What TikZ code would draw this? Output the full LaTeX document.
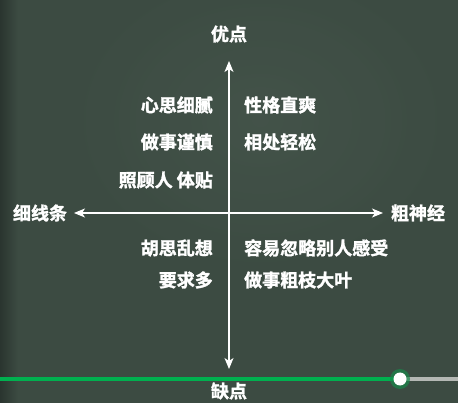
\documentclass[tikz,border=0pt]{standalone}
\usepackage{fontspec}
\newfontfamily\cjk{Noto Sans CJK SC}[BoldFont={Noto Sans CJK SC Bold}, BoldFeatures={FakeBold=1.6}]
\usetikzlibrary{arrows.meta}
\definecolor{board}{HTML}{3C4B42}
\definecolor{boarddark}{HTML}{2A352F}
\definecolor{boardlight}{HTML}{48584E}
\definecolor{barGreen}{HTML}{00B04F}
\definecolor{barGray}{HTML}{B4B8B4}
\tikzset{
  lbl/.style={text=white, font=\cjk\bfseries\fontsize{18}{18}\selectfont, inner sep=0pt},
  axis/.style={draw=white, line width=1.6pt, -{Stealth[length=11pt,width=9pt,inset=3pt]}},
}
\begin{document}
\begin{tikzpicture}[x=1pt,y=-1pt]
\useasboundingbox (0,0) rectangle (458,403);
\fill[board] (0,0) rectangle (458,403);
\shade[left color=boarddark, right color=board] (0,0) rectangle (18,403);
\shade[inner color=boardlight, outer color=board, opacity=0.6] (260,120) ellipse (200 and 160);
\coordinate (o) at (229,213);
\coordinate (top) at (229,61);
\coordinate (bot) at (229,369);
\coordinate (lft) at (74,213);
\coordinate (rgt) at (383,213);
\draw[axis] (o) -- (top);
\draw[axis] (o) -- (bot);
\draw[axis] (o) -- (lft);
\draw[axis] (o) -- (rgt);
\node[lbl] (good) at (229,34) {优点};
\node[lbl] (bad) at (229,391) {缺点};
\node[lbl] (thin) at (40,213) {细线条};
\node[lbl] (thick) at (418,213) {粗神经};
\node[lbl, anchor=east] (l1) at (213,105) {心思细腻};
\node[lbl, anchor=east] (l2) at (213,142) {做事谨慎};
\node[lbl, anchor=east] (l3) at (213,180) {照顾人 体贴};
\node[lbl, anchor=east] (l4) at (213,248) {胡思乱想};
\node[lbl, anchor=east] (l5) at (213,280) {要求多};
\node[lbl, anchor=west] (r1) at (244,105) {性格直爽};
\node[lbl, anchor=west] (r2) at (244,142) {相处轻松};
\node[lbl, anchor=west] (r4) at (244,248) {容易忽略别人感受};
\node[lbl, anchor=west] (r5) at (244,280) {做事粗枝大叶};
% progress bar
\coordinate (barL) at (0,379);
\coordinate (knob) at (400,379);
\coordinate (barR) at (458,379);
\draw[barGray, line width=3.5pt] (knob) -- (barR);
\draw[barGreen, line width=3.5pt] (barL) -- (knob);
\fill[barGreen!60!board, opacity=0.7] (knob) circle (10);
\fill[white] (knob) circle (6.5);
\end{tikzpicture}
\end{document}
